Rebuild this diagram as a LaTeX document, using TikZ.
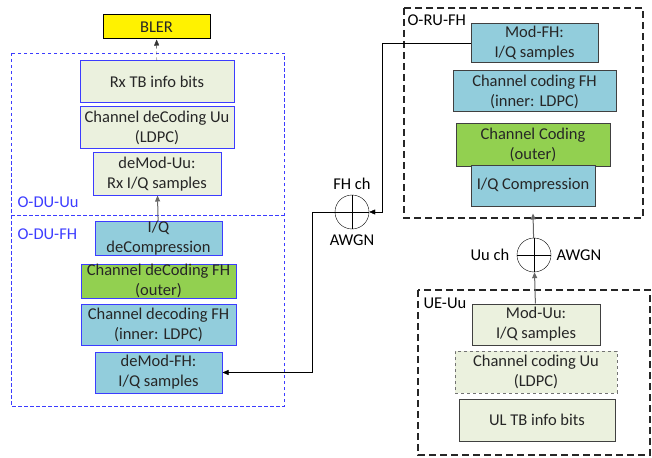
\documentclass[tikz,border=0pt]{standalone}
\usepackage{fontspec}
\setmainfont{Carlito}
\usepackage{tikz}
\usetikzlibrary{arrows.meta,positioning}

\definecolor{lightbox}{RGB}{235,241,222}
\definecolor{bluebox}{RGB}{146,205,220}
\definecolor{greenbox}{RGB}{146,208,80}
\definecolor{duedge}{RGB}{60,60,255}

\begin{document}
\begin{tikzpicture}[x=1pt, y=-1pt, font=\fontsize{16.5}{20}\selectfont,
  blk/.style={draw, align=center, inner sep=0pt, line width=1pt, text=black!85},
  du/.style={blk, draw=duedge},
  ru/.style={blk, draw=black!75},
  lite/.style={fill=lightbox},
  blu/.style={fill=bluebox},
  grn/.style={fill=greenbox},
  grp/.style={draw=black!85, line width=1.8pt, dash pattern=on 7pt off 4pt},
  dugrp/.style={draw=duedge, line width=0.9pt, dash pattern=on 3.5pt off 2.5pt},
  sum/.style={draw, circle, minimum size=34pt, inner sep=0pt},
  tip/.style={-{Triangle[length=6pt,width=5pt]}},
  lbl/.style={text=duedge, anchor=west}]
  \useasboundingbox (0,0) rectangle (652,457);

  % O-DU
  \draw[dugrp] (11,53) rectangle (284,406);
  \draw[dugrp] (11,215) -- (284,215);
  \node[lbl] (duuu) at (14,202) {O-DU-Uu};
  \node[lbl] (dufh) at (14,234) {O-DU-FH};

  \node[blk, fill=yellow, minimum width=107pt, minimum height=24pt] (bler) at (156.5,27) {BLER};
  \node[du, lite, minimum width=154pt, minimum height=42pt] (rxtb) at (157,82) {Rx TB info bits};
  \node[du, lite, minimum width=154pt, minimum height=42pt] (decuu) at (157,128) {Channel deCoding Uu\\(LDPC)};
  \node[du, lite, minimum width=128pt, minimum height=42pt] (demoduu) at (157,174) {deMod-Uu:\\Rx I/Q samples};
  \node[du, blu, minimum width=127pt, minimum height=33pt] (iqdec) at (158.5,238.5) {I/Q\\deCompression};
  \node[du, grn, minimum width=155pt, minimum height=34pt] (decout) at (158.5,281) {Channel deCoding FH\\(outer)};
  \node[du, blu, minimum width=155pt, minimum height=41pt] (decin) at (158.5,324.5) {Channel decoding FH\\(inner: LDPC)};
  \node[du, blu, minimum width=127pt, minimum height=41pt] (demodfh) at (158.5,372.5) {deMod-FH:\\I/Q samples};

  % O-RU
  \draw[grp] (404,8) rectangle (643,218);
  \node[anchor=west] (rufh) at (404,20) {O-RU-FH};
  \node[ru, blu, minimum width=127pt, minimum height=39pt] (modfh) at (534.5,43.5) {Mod-FH:\\I/Q samples};
  \node[ru, blu, minimum width=163pt, minimum height=41pt] (codin) at (534.5,91.5) {Channel coding FH\\(inner: LDPC)};
  \node[ru, grn, minimum width=154pt, minimum height=42pt] (codout) at (533,145) {Channel Coding\\(outer)};
  \node[ru, blu, minimum width=124pt, minimum height=41pt] (iqc) at (533,185.5) {I/Q Compression};

  % UE
  \draw[grp] (418,290) rectangle (650,455);
  \node[anchor=west] (ueuu) at (420,303) {UE-Uu};
  \node[ru, lite, minimum width=128pt, minimum height=41pt] (moduu) at (536,324.5) {Mod-Uu:\\I/Q samples};
  \node[ru, lite, draw=black!55, dashed, minimum width=162pt, minimum height=42pt] (coduu) at (536,372) {Channel coding Uu\\(LDPC)};
  \node[ru, lite, minimum width=156pt, minimum height=42pt] (ultb) at (537,420) {UL TB info bits};

  % channels
  \node[sum] (fh) at (352,212) {};
  \draw (fh.west) -- (fh.east) (fh.north) -- (fh.south);
  \node[above=2pt of fh] (fhch) {FH ch};
  \node[below=2pt of fh] (fhn) {AWGN};
  \node[sum] (uu) at (534,255) {};
  \draw (uu.west) -- (uu.east) (uu.north) -- (uu.south);
  \node[left=4pt of uu] (uuch) {Uu ch};
  \node[right=2pt of uu] (uun) {AWGN};

  \draw[tip, black!80, dashed] (rxtb) -- (bler);
  \draw[tip, black!60, line width=1pt] (iqdec) -- (demoduu);
  \draw[tip] (modfh.west) -- ++(-88,0) |- (fh.east);
  \draw[tip] (fh.west) -- ++(-23,0) |- (demodfh.east);
  \draw[tip, black!60, line width=1pt] (moduu) -- (uu);
  \draw[tip, black!60, line width=1pt] (uu) -- ([yshift=-7pt]iqc.south);
\end{tikzpicture}
\end{document}
